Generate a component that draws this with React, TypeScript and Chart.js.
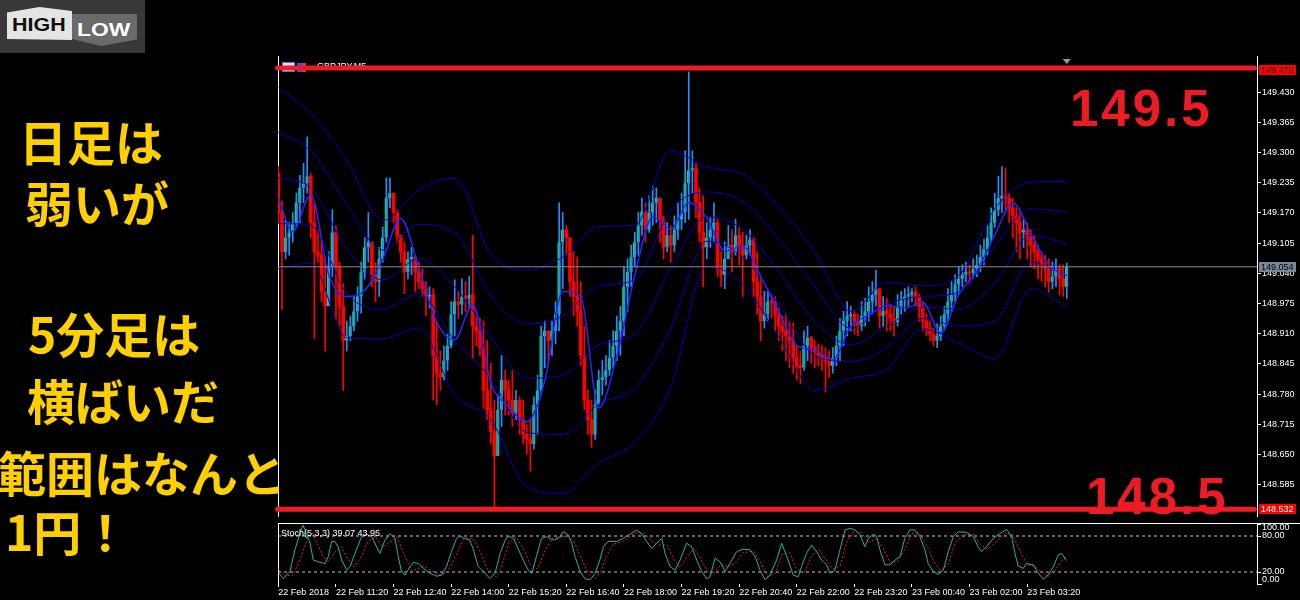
import React, { useEffect, useRef } from "react";
import { Chart, registerables } from "chart.js";

Chart.register(...registerables);

const FONT = '"Liberation Sans", Arial, sans-serif';
const RED = "#ed1c24";

// ---- 5-minute candles (GBPJPY M5), bar index 0 = 22 Feb 10:00 ----
const firstOpen = 149.255;
const closes = [
  149.171, 149.086, 149.117, 149.128, 149.149, 149.192, 149.224, 149.234, 149.249, 149.149,
  149.086, 149.079, 149.001, 148.969, 149.054, 149.128, 149.054, 148.969, 148.895, 148.905,
  148.926, 148.958, 148.990, 149.043, 149.096, 149.107, 149.037, 149.022, 149.071, 149.117,
  149.202, 149.213, 149.171, 149.122, 149.086, 149.043, 149.071, 149.075, 149.043, 149.022,
  149.007, 148.990, 148.994, 148.863, 148.825, 148.816, 148.852, 148.884, 148.952, 148.979,
  148.973, 148.990, 148.986, 148.994, 148.926, 148.916, 148.880, 148.788, 148.746, 148.699,
  148.646, 148.746, 148.810, 148.788, 148.767, 148.740, 148.767, 148.725, 148.693, 148.682,
  148.672, 148.757, 148.788, 148.905, 148.916, 148.895, 148.916, 148.952, 149.107, 149.134,
  149.117, 149.022, 148.990, 148.958, 148.863, 148.767, 148.725, 148.693, 148.757, 148.810,
  148.816, 148.831, 148.858, 148.884, 148.916, 148.937, 149.011, 149.043, 149.075, 149.107,
  149.143, 149.173, 149.134, 149.171, 149.192, 149.202, 149.156, 149.096, 149.122, 149.100,
  149.134, 149.156, 149.171, 149.234, 149.262, 149.266, 149.192, 149.128, 149.096, 149.117,
  149.134, 149.149, 149.050, 149.037, 149.071, 149.100, 149.086, 149.122, 149.100, 149.079,
  149.100, 149.113, 149.022, 148.990, 148.937, 148.952, 148.979, 148.977, 148.952, 148.926,
  148.916, 148.905, 148.895, 148.858, 148.841, 148.837, 148.884, 148.901, 148.880, 148.871,
  148.863, 148.858, 148.850, 148.841, 148.858, 148.884, 148.916, 148.937, 148.948, 148.952,
  148.937, 148.926, 148.948, 148.958, 148.979, 148.994, 149.007, 148.948, 148.958, 148.952,
  148.943, 148.935, 148.969, 148.984, 148.990, 148.994, 148.999, 148.990, 148.965, 148.937,
  148.922, 148.909, 148.895, 148.905, 148.926, 148.952, 148.979, 148.994, 149.016, 149.028,
  149.037, 149.043, 149.041, 149.050, 149.058, 149.075, 149.092, 149.117, 149.149, 149.177,
  149.202, 149.207, 149.202, 149.181, 149.164, 149.149, 149.128, 149.134, 149.117, 149.100,
  149.086, 149.071, 149.058, 149.050, 149.022, 149.033, 149.050, 149.028, 149.011, 149.054,
];
const highs = [
  149.270, 149.196, 149.154, 149.149, 149.171, 149.213, 149.251, 149.277, 149.334, 149.255,
  149.192, 149.132, 149.111, 149.075, 149.086, 149.177, 149.143, 149.064, 149.018, 148.937,
  148.948, 148.990, 149.011, 149.064, 149.117, 149.171, 149.107, 149.064, 149.096, 149.139,
  149.245, 149.245, 149.213, 149.177, 149.122, 149.107, 149.086, 149.096, 149.079, 149.064,
  149.050, 149.022, 149.011, 149.007, 148.937, 148.873, 148.884, 148.909, 148.979, 149.026,
  149.001, 149.028, 149.022, 149.033, 149.122, 148.948, 148.943, 148.937, 148.895, 148.846,
  148.767, 148.778, 148.863, 148.831, 148.810, 148.831, 148.788, 148.774, 148.767, 148.714,
  148.725, 148.774, 148.820, 148.926, 148.937, 148.916, 148.937, 148.979, 149.192, 149.171,
  149.143, 149.107, 149.086, 149.075, 149.022, 148.926, 148.788, 148.767, 148.788, 148.831,
  148.852, 148.863, 148.895, 148.916, 148.948, 148.969, 149.054, 149.071, 149.100, 149.128,
  149.171, 149.202, 149.192, 149.207, 149.228, 149.224, 149.192, 149.164, 149.149, 149.143,
  149.164, 149.192, 149.213, 149.304, 149.474, 149.304, 149.277, 149.224, 149.207, 149.149,
  149.160, 149.192, 149.156, 149.086, 149.107, 149.143, 149.134, 149.156, 149.139, 149.128,
  149.122, 149.134, 149.117, 149.086, 149.033, 149.001, 149.001, 148.994, 148.990, 148.965,
  148.948, 148.952, 148.937, 148.933, 148.884, 148.873, 148.916, 148.926, 148.905, 148.895,
  148.888, 148.884, 148.880, 148.873, 148.880, 148.905, 148.943, 148.958, 148.979, 148.969,
  148.958, 148.952, 148.979, 148.986, 149.011, 149.022, 149.047, 149.001, 148.990, 148.986,
  148.973, 148.969, 148.994, 149.001, 149.007, 149.011, 149.007, 149.011, 148.994, 148.979,
  148.952, 148.937, 148.922, 148.931, 148.948, 148.969, 149.007, 149.022, 149.037, 149.054,
  149.058, 149.064, 149.058, 149.071, 149.079, 149.100, 149.113, 149.143, 149.181, 149.213,
  149.249, 149.270, 149.266, 149.213, 149.202, 149.181, 149.171, 149.156, 149.149, 149.134,
  149.122, 149.100, 149.086, 149.079, 149.071, 149.064, 149.071, 149.058, 149.058, 149.062,
];
const lows = [
  149.149, 148.962, 149.071, 149.079, 149.107, 149.139, 149.149, 149.192, 149.213, 149.117,
  148.899, 149.064, 148.979, 148.873, 148.990, 149.033, 148.941, 148.926, 148.788, 148.873,
  148.895, 148.916, 148.937, 148.954, 149.028, 149.064, 149.011, 148.979, 148.990, 149.064,
  149.107, 149.181, 149.149, 149.107, 149.064, 148.996, 149.028, 149.037, 149.001, 149.007,
  148.990, 148.948, 148.965, 148.767, 148.757, 148.788, 148.810, 148.831, 148.880, 148.905,
  148.943, 148.952, 148.958, 148.965, 148.858, 148.884, 148.863, 148.750, 148.725, 148.672,
  148.538, 148.693, 148.710, 148.735, 148.735, 148.710, 148.725, 148.693, 148.672, 148.650,
  148.614, 148.661, 148.693, 148.778, 148.837, 148.846, 148.863, 148.888, 148.916, 149.007,
  149.079, 148.990, 148.948, 148.926, 148.841, 148.746, 148.693, 148.665, 148.682, 148.767,
  148.778, 148.799, 148.820, 148.837, 148.852, 148.863, 148.905, 148.958, 149.011, 149.054,
  149.079, 149.122, 149.107, 149.128, 149.143, 149.149, 149.107, 149.071, 149.086, 149.064,
  149.086, 149.113, 149.134, 149.149, 149.156, 149.213, 149.160, 149.107, 149.011, 149.071,
  149.096, 149.107, 149.033, 149.011, 149.007, 149.071, 149.043, 149.079, 149.058, 148.990,
  149.071, 149.079, 148.990, 148.952, 148.895, 148.922, 148.937, 148.943, 148.916, 148.895,
  148.873, 148.852, 148.837, 148.825, 148.810, 148.803, 148.831, 148.852, 148.846, 148.837,
  148.841, 148.831, 148.784, 148.816, 148.825, 148.841, 148.852, 148.884, 148.905, 148.916,
  148.909, 148.905, 148.916, 148.926, 148.937, 148.952, 148.969, 148.922, 148.926, 148.916,
  148.916, 148.905, 148.926, 148.952, 148.958, 148.969, 148.979, 148.969, 148.937, 148.916,
  148.905, 148.895, 148.884, 148.880, 148.895, 148.916, 148.937, 148.958, 148.979, 148.994,
  149.011, 149.022, 149.016, 149.028, 149.033, 149.043, 149.058, 149.079, 149.107, 149.139,
  149.164, 149.171, 149.177, 149.149, 149.117, 149.086, 149.071, 149.096, 149.071, 149.054,
  149.050, 149.028, 149.022, 149.011, 149.000, 149.007, 149.011, 148.994, 148.990, 148.986,
];

// ---- Bollinger bands (20) read at sampled bars ----
const bandBars = [0, 9, 19, 29, 39, 49, 59, 69, 79, 89, 99, 109, 119, 129, 139, 149, 159, 169, 179, 189, 199, 209, 219];
const bbUpper2 = [149.440, 149.385, 149.283, 149.154, 149.219, 149.245, 149.081, 149.047, 149.075, 149.141, 149.143, 149.304, 149.268, 149.253, 149.183, 149.086, 148.958, 149.020, 149.013, 149.035, 149.179, 149.236, 149.238];
const bbUpper1 = [149.343, 149.304, 149.188, 149.090, 149.145, 149.128, 148.992, 148.931, 148.948, 149.013, 149.026, 149.177, 149.215, 149.194, 149.113, 149.011, 148.922, 148.973, 148.990, 148.999, 149.098, 149.179, 149.171];
const bbMid = [149.245, 149.224, 149.092, 149.026, 149.071, 149.011, 148.903, 148.814, 148.820, 148.886, 148.909, 149.050, 149.162, 149.135, 149.043, 148.937, 148.886, 148.926, 148.967, 148.963, 149.018, 149.122, 149.103];
const bbLower1 = [149.147, 149.143, 148.996, 148.963, 148.996, 148.895, 148.814, 148.697, 148.693, 148.759, 148.793, 148.922, 149.109, 149.075, 148.973, 148.863, 148.850, 148.880, 148.943, 148.926, 148.937, 149.064, 149.035];
const bbLower2 = [149.050, 149.062, 148.901, 148.899, 148.922, 148.778, 148.725, 148.580, 148.566, 148.631, 148.676, 148.795, 149.056, 149.016, 148.903, 148.788, 148.814, 148.833, 148.920, 148.890, 148.856, 149.007, 148.967];

// ---- fast moving average (bright blue) ----
const maBars = [0, 4, 9, 14, 19, 24, 29, 34, 39, 44, 49, 54, 59, 64, 69, 74, 79, 84, 89, 94, 99, 104, 109, 114, 119, 124, 129, 134, 139, 144, 149, 154, 159, 164, 169, 174, 179, 184, 189, 194, 199, 204, 209, 214, 219];
const maValues = [149.202, 149.130, 149.209, 149.037, 148.990, 149.003, 149.071, 149.158, 149.052, 148.935, 148.897, 148.973, 148.805, 148.752, 148.720, 148.808, 149.001, 148.990, 148.750, 148.861, 149.035, 149.162, 149.135, 149.192, 149.160, 149.088, 149.098, 149.033, 148.958, 148.884, 148.875, 148.854, 148.926, 148.950, 148.971, 148.965, 148.977, 148.912, 148.994, 149.045, 149.122, 149.192, 149.126, 149.058, 149.035];

// ---- Stochastic (5,3,3): [bar, value] ----
const stochMain = [
  [0, 19], [1.4, 9], [3.2, 21], [4.6, 57], [6, 84], [6.9, 98], [7.9, 82], [8.8, 68], [9.7, 40], [11.1, 37],
  [13, 34], [13.9, 46], [14.8, 71], [15.7, 71], [16.6, 62], [17.6, 40], [19, 23], [19.9, 29], [21.3, 51], [23.1, 79],
  [24.5, 83], [25.9, 79], [28.2, 51], [29.6, 73], [31, 84], [32.4, 76], [33.3, 46], [34.2, 21], [35.2, 15], [36.6, 29],
  [37.5, 36], [38.9, 34], [40.3, 26], [42.1, 18], [44, 13], [45.4, 15], [46.7, 29], [48.1, 54], [49.5, 76], [50.4, 80],
  [51.8, 76], [53.2, 73], [54.2, 57], [55.5, 29], [56.9, 21], [58.8, 9], [60.2, 18], [61.6, 51], [63, 73], [63.9, 80],
  [65.3, 76], [66.6, 59], [68, 40], [69.4, 23], [70.4, 18], [71.7, 46], [73.1, 76], [74.5, 79], [76.4, 73], [77.8, 76],
  [79.1, 87], [80.5, 82], [81.5, 68], [82.4, 46], [83.8, 21], [85.2, 9], [86.6, 7], [88, 18], [89.3, 40], [90.3, 62],
  [91.6, 71], [94, 71], [95.8, 76], [97.7, 83], [99.5, 90], [100.9, 84], [102.3, 71], [103.7, 59], [105.1, 68], [106.5, 76],
  [107.4, 51], [108.8, 29], [110.2, 23], [111.6, 40], [113.4, 68], [114.8, 62], [116.2, 40], [117.6, 21], [119, 9], [119.9, 12],
  [121.3, 43], [122.7, 37], [124.1, 21], [125.4, 34], [127.3, 54], [129.1, 58], [131, 57], [132.4, 46], [133.8, 23], [135.2, 7],
  [136.6, 15], [138.4, 40], [139.8, 68], [141.6, 40], [143, 15], [144.4, 12], [145.3, 29], [146.7, 51], [148.1, 65], [149.5, 54],
  [150.9, 40], [152.3, 32], [153.2, 18], [154.6, 23], [156, 57], [157.4, 90], [158.8, 93], [160.2, 90], [161.6, 82], [162.9, 62],
  [163.9, 76], [165.3, 83], [166.2, 79], [167.1, 57], [168.5, 32], [169.9, 32], [171.3, 40], [172.7, 46], [174, 76], [175.4, 90],
  [176.8, 90], [178.2, 79], [179.6, 57], [180.5, 34], [181.9, 21], [183.3, 16], [184.7, 23], [186.1, 54], [187.5, 79], [188.9, 87],
  [191.2, 86], [193, 79], [194.4, 62], [195.3, 54], [196.7, 62], [198.6, 76], [200.4, 84], [202.3, 91], [203.7, 79], [204.6, 51],
  [205.5, 30], [206.9, 26], [207.8, 34], [209.7, 32], [211.1, 18], [212.5, 8], [213.9, 15], [215.3, 29], [216.6, 48], [217.6, 51],
  [218.9, 39.07],
];
const stochSignal = [
  [0, 25], [2, 14], [4, 14], [6, 40], [8, 75], [9.5, 85], [11, 65], [12.5, 45], [14, 38], [16, 55],
  [17.5, 62], [19, 45], [21, 28], [23, 45], [25, 72], [27, 78], [29, 62], [31, 70], [33, 78], [35, 48],
  [37, 22], [38.5, 25], [40.5, 30], [42.5, 22], [45, 15], [47, 20], [49.5, 50], [51.5, 76], [54, 76], [56, 55],
  [58, 25], [60.5, 12], [62, 30], [64, 68], [66, 78], [68, 60], [70, 32], [72, 25], [74, 55], [76, 76],
  [78, 78], [80.5, 80], [82, 72], [84, 45], [86, 18], [88, 9], [89.5, 20], [91, 45], [93, 66], [96, 72],
  [99, 85], [101.5, 85], [104, 70], [106, 65], [108, 65], [110, 40], [111.5, 28], [113.5, 45], [115.5, 60], [117.5, 40],
  [119.5, 18], [121, 18], [123, 33], [125, 28], [127, 35], [129, 52], [132, 55], [134, 35], [136, 12], [138, 18],
  [140, 50], [142, 52], [144, 25], [146, 18], [148, 45], [150, 58], [152, 42], [154, 25], [156, 30], [158, 72],
  [160, 88], [162, 85], [164, 70], [166, 75], [168, 60], [170, 35], [172, 38], [174, 58], [176, 85], [178, 85],
  [180, 65], [182, 38], [184, 22], [186, 33], [188, 68], [190, 82], [193, 83], [195, 66], [197, 58], [199, 68],
  [202, 85], [204, 82], [206, 55], [208, 32], [210, 30], [212, 20], [214, 12], [216, 25], [218, 42], [219, 43.95],
];
const stochLast = [39.07, 43.95];
const stochLevels = [80, 20];
const stochTicks = [100, 80, 20, 0];

// ---- axes ----
const priceTicks = [148.585, 148.65, 148.715, 148.78, 148.845, 148.91, 148.975, 149.04, 149.105, 149.17, 149.235, 149.3, 149.365, 149.43];
const timeLabelBars = [0, 16, 32, 48, 64, 80, 96, 112, 128, 144, 160, 176, 192, 208];
const timeLabels = [
  "22 Feb 2018", "22 Feb 11:20", "22 Feb 12:40", "22 Feb 14:00", "22 Feb 15:20", "22 Feb 16:40", "22 Feb 18:00",
  "22 Feb 19:20", "22 Feb 20:40", "22 Feb 22:00", "22 Feb 23:20", "23 Feb 00:40", "23 Feb 02:00", "23 Feb 03:20",
];
const overlayLinePrices = [149.482, 148.532];
const redLabelPrices = [149.478, 148.532];
const bidPrice = 149.054;

const XMIN = -0.1;
const XMAX = 271.84;
const YMIN = 148.516;
const YMAX = 149.508;

const mainDecor = {
  id: "mainDecor",
  beforeDatasetsDraw(chart: any) {
    const { ctx, chartArea: a } = chart;
    ctx.save();
    ctx.strokeStyle = "#ffffff";
    ctx.lineWidth = 1;
    ctx.beginPath();
    ctx.moveTo(a.left + 0.5, a.top);
    ctx.lineTo(a.left + 0.5, a.bottom);
    ctx.stroke();
    ctx.fillStyle = "#dcdcf5";
    ctx.fillRect(a.left + 4, a.top + 6, 13, 10);
    ctx.strokeStyle = "#6b6bd6";
    ctx.strokeRect(a.left + 4.5, a.top + 6.5, 12, 9);
    ctx.fillStyle = "#4646e6";
    ctx.fillRect(a.left + 19, a.top + 7, 9, 9);
    ctx.fillStyle = "#d43a3a";
    ctx.fillRect(a.left + 24, a.top + 7, 4, 9);
    ctx.fillStyle = "#ffffff";
    ctx.font = `9px ${FONT}`;
    ctx.textBaseline = "alphabetic";
    ctx.fillText("GBPJPY,M5", a.left + 39, a.top + 13);
    ctx.restore();
  },
  afterDraw(chart: any) {
    const { ctx, chartArea: a, scales } = chart;
    ctx.save();
    ctx.font = `9px ${FONT}`;
    ctx.textBaseline = "middle";
    const box = (price: number, bg: string, fg: string) => {
      const py = Math.round(scales.y.getPixelForValue(price));
      ctx.fillStyle = bg;
      ctx.fillRect(a.right + 2, py - 5, 37, 10);
      ctx.fillStyle = fg;
      ctx.fillText(price.toFixed(3), a.right + 4, py + 0.5);
    };
    box(redLabelPrices[0], "#ff0000", "#2a0000");
    box(redLabelPrices[1], "#ff0000", "#ffffff");
    box(bidPrice, "#778899", "#000000");
    const tx = scales.x.getPixelForValue(closes.length - 1);
    ctx.fillStyle = "#9a9a9a";
    ctx.beginPath();
    ctx.moveTo(tx - 4, a.top + 3);
    ctx.lineTo(tx + 4, a.top + 3);
    ctx.lineTo(tx, a.top + 8);
    ctx.closePath();
    ctx.fill();
    ctx.restore();
  },
};

const stochDecor = {
  id: "stochDecor",
  beforeDatasetsDraw(chart: any) {
    const { ctx, chartArea: a } = chart;
    ctx.save();
    ctx.strokeStyle = "#ffffff";
    ctx.lineWidth = 1;
    ctx.beginPath();
    ctx.moveTo(a.left, a.top - 0.5);
    ctx.lineTo(chart.width, a.top - 0.5);
    ctx.moveTo(a.left + 0.5, a.top - 1);
    ctx.lineTo(a.left + 0.5, a.bottom + 1);
    ctx.moveTo(a.right, a.bottom + 0.5);
    ctx.lineTo(a.right + 5, a.bottom + 0.5);
    ctx.stroke();
    ctx.restore();
  },
  afterDatasetsDraw(chart: any) {
    const { ctx, chartArea: a, scales } = chart;
    ctx.save();
    ctx.font = `9px ${FONT}`;
    ctx.fillStyle = "#ffffff";
    ctx.textBaseline = "alphabetic";
    ctx.fillText(`Stoch(5,3,3) ${stochLast[0].toFixed(2)} ${stochLast[1].toFixed(2)}`, a.left + 3, a.top + 12);
    ctx.textBaseline = "middle";
    stochTicks.forEach((v) => {
      let py = scales.y.getPixelForValue(v);
      if (v === 100) py += 4;
      if (v === 0) py -= 4;
      ctx.fillText(v.toFixed(2), a.right + 5, py);
    });
    ctx.restore();
  },
};

export default function App() {
  const mainRef = useRef<HTMLCanvasElement>(null);
  const stochRef = useRef<HTMLCanvasElement>(null);

  useEffect(() => {
    const opens = closes.map((_, i) => (i === 0 ? firstOpen : closes[i - 1]));
    const isBull = closes.map((c, i) => c >= opens[i]);
    const wicks = closes.map((_, i) => ({ x: i, y: [lows[i], highs[i]] }));
    const bodies = closes.map((c, i) => ({ x: i, y: [opens[i], c] }));
    const pts = (xs: number[], ys: number[]) => xs.map((x, i) => ({ x, y: ys[i] }));
    const flat = (v: number, a = XMIN, b = XMAX) => [{ x: a, y: v }, { x: b, y: v }];
    const band = (ys: number[]) => ({
      type: "line" as const,
      data: pts(bandBars, ys),
      borderColor: "#0000c0",
      borderWidth: 1,
      pointRadius: 0,
      cubicInterpolationMode: "monotone" as const,
      order: 4,
    });
    const tickFont = { family: FONT, size: 9 };

    const main = new Chart(mainRef.current as HTMLCanvasElement, {
      type: "bar",
      data: {
        datasets: [
          ...overlayLinePrices.map((p) => ({
            type: "line" as const,
            data: [{ x: -0.2, y: p }, { x: 271.1, y: p }],
            borderColor: RED,
            borderWidth: 5,
            pointRadius: 0,
            borderCapStyle: "round" as const,
            clip: false as any,
            order: 0,
          })),
          { type: "line" as const, data: flat(bidPrice), borderColor: "#8c8c8c", borderWidth: 1, pointRadius: 0, order: 2 },
          {
            type: "line" as const,
            data: pts(maBars, maValues),
            borderColor: "#2626ff",
            borderWidth: 1.5,
            pointRadius: 0,
            cubicInterpolationMode: "monotone" as const,
            order: 3,
          },
          band(bbUpper2),
          band(bbUpper1),
          band(bbMid),
          band(bbLower1),
          band(bbLower2),
          {
            type: "bar" as const,
            data: bodies as any,
            backgroundColor: isBull.map((b) => (b ? "#1e90ff" : "#ff0000")),
            borderColor: "#00ff00",
            borderWidth: (ctx: any) => (isBull[ctx.dataIndex] ? { left: 1, top: 0, right: 0, bottom: 0 } : 0),
            borderSkipped: false,
            barThickness: 3,
            minBarLength: 1,
            grouped: false,
            order: 5,
          } as any,
          {
            type: "bar" as const,
            data: wicks as any,
            backgroundColor: isBull.map((b) => (b ? "#1e90ff" : "#ff0000")),
            barThickness: 1,
            grouped: false,
            order: 6,
          } as any,
        ],
      },
      options: {
        responsive: false,
        animation: false,
        devicePixelRatio: 1,
        layout: { padding: { left: 278, top: 56, right: 0, bottom: 0 } },
        plugins: { legend: { display: false }, tooltip: { enabled: false } },
        scales: {
          x: { type: "linear", min: XMIN, max: XMAX, display: false, offset: false, grid: { offset: false } },
          y: {
            position: "right",
            min: YMIN,
            max: YMAX,
            afterFit: (s: any) => {
              s.width = 43;
            },
            afterBuildTicks: (s: any) => {
              s.ticks = priceTicks.map((v) => ({ value: v }));
            },
            ticks: { color: "#ffffff", font: tickFont, padding: 1, callback: (v: any) => Number(v).toFixed(3) },
            grid: { drawOnChartArea: false, drawTicks: true, tickLength: 4, color: "#ffffff" },
            border: { display: true, color: "#ffffff", width: 1 },
          },
        },
      } as any,
      plugins: [mainDecor],
    });

    const stoch = new Chart(stochRef.current as HTMLCanvasElement, {
      type: "line",
      data: {
        datasets: [
          ...stochLevels.map((v) => ({
            data: flat(v),
            borderColor: "#c4c4c4",
            borderWidth: 1,
            borderDash: [3, 3],
            pointRadius: 0,
            order: 3,
          })),
          {
            data: stochSignal.map(([x, y]) => ({ x, y })),
            borderColor: "#ff1a1a",
            borderWidth: 1,
            borderDash: [2, 2],
            pointRadius: 0,
            order: 2,
          },
          {
            data: stochMain.map(([x, y]) => ({ x, y })),
            borderColor: "#20b2aa",
            borderWidth: 1,
            pointRadius: 0,
            order: 1,
          },
        ],
      },
      options: {
        responsive: false,
        animation: false,
        devicePixelRatio: 1,
        layout: { padding: { left: 278, top: 24, right: 0, bottom: 0 } },
        plugins: { legend: { display: false }, tooltip: { enabled: false } },
        scales: {
          x: {
            type: "linear",
            min: XMIN,
            max: XMAX,
            offset: false,
            afterFit: (s: any) => {
              s.height = 16;
            },
            afterBuildTicks: (s: any) => {
              s.ticks = timeLabelBars.map((v) => ({ value: v }));
            },
            ticks: {
              color: "#ffffff",
              font: tickFont,
              align: "start",
              padding: 0,
              autoSkip: false,
              maxRotation: 0,
              callback: (v: any) => {
                const k = timeLabelBars.indexOf(Number(v));
                return k >= 0 ? timeLabels[k] : "";
              },
            },
            grid: { drawOnChartArea: false, drawTicks: true, tickLength: 3, color: "#ffffff" },
            border: { display: false },
          },
          y: {
            position: "right",
            min: 0,
            max: 100,
            afterFit: (s: any) => {
              s.width = 43;
            },
            afterBuildTicks: (s: any) => {
              s.ticks = stochTicks.map((v) => ({ value: v }));
            },
            ticks: { display: false },
            grid: { drawOnChartArea: false, drawTicks: true, tickLength: 4, color: "#ffffff" },
            border: { display: true, color: "#ffffff", width: 1 },
          },
        },
      } as any,
      plugins: [stochDecor],
    });

    return () => {
      main.destroy();
      stoch.destroy();
    };
  }, []);

  const jp: React.CSSProperties = {
    position: "absolute",
    color: "#ffd000",
    fontFamily: '"Noto Sans CJK JP", sans-serif',
    fontWeight: 700,
    fontSize: 48,
    lineHeight: "48px",
    whiteSpace: "nowrap",
  };
  const big: React.CSSProperties = {
    position: "absolute",
    color: RED,
    fontFamily: '"Liberation Sans", Arial, sans-serif',
    fontWeight: 700,
    fontSize: 51,
    lineHeight: "51px",
    letterSpacing: 3,
    whiteSpace: "nowrap",
  };

  return (
    <div style={{ position: "fixed", left: 0, top: 0, width: 1300, height: 600, background: "#000", overflow: "hidden" }}>
      <canvas ref={mainRef} width={1300} height={523} style={{ position: "absolute", left: 0, top: 0, width: 1300, height: 523 }} />
      <canvas ref={stochRef} width={1300} height={100} style={{ position: "absolute", left: 0, top: 500, width: 1300, height: 100 }} />

      <div style={{ position: "absolute", left: 0, top: 0, width: 145, height: 53, background: "#383838" }}>
        <div
          style={{
            position: "absolute", left: 7, top: 7, width: 65, height: 33, background: "#e4e4e4",
            clipPath: "polygon(0 17%, 50% 0, 100% 12%, 100% 100%, 0 97%)",
          }}
        />
        <div
          style={{
            position: "absolute", left: 72, top: 14, width: 65, height: 32, background: "#6a6a6a",
            clipPath: "polygon(0 0, 100% 0, 100% 80%, 45% 100%, 0 78%)",
          }}
        />
        <div
          style={{
            position: "absolute", left: 12, top: 15, fontFamily: FONT, fontWeight: 900, fontSize: 19, lineHeight: "19px",
            color: "#111", transform: "scaleX(1.13)", transformOrigin: "left top",
          }}
        >
          HIGH
        </div>
        <div
          style={{
            position: "absolute", left: 77, top: 20, fontFamily: FONT, fontWeight: 900, fontSize: 19, lineHeight: "19px",
            color: "#fff", transform: "scaleX(1.2)", transformOrigin: "left top",
          }}
        >
          LOW
        </div>
      </div>

      <div style={{ ...jp, left: 19, top: 116 }}>日足は</div>
      <div style={{ ...jp, left: 25, top: 177 }}>弱いが</div>
      <div style={{ ...jp, left: 28, top: 308 }}>5分足は</div>
      <div style={{ ...jp, left: 27, top: 375 }}>横ばいだ</div>
      <div style={{ ...jp, left: -2, top: 447 }}>範囲はなんと</div>
      <div style={{ ...jp, left: 5, top: 506 }}>1円！</div>

      <div style={{ ...big, left: 1070, top: 83 }}>149.5</div>
      <div style={{ ...big, left: 1086, top: 471 }}>148.5</div>
    </div>
  );
}
